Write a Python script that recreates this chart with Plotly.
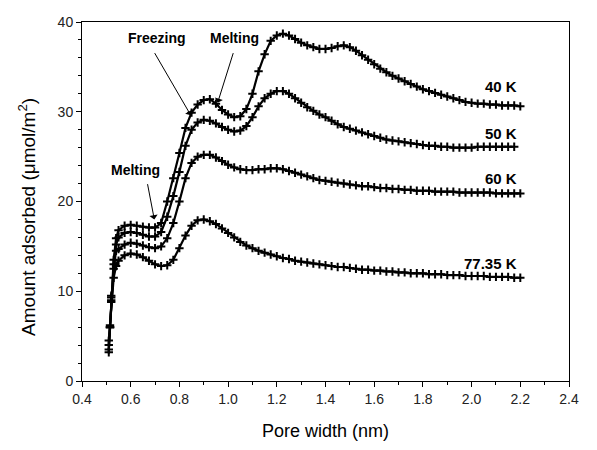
import plotly.graph_objects as go

# Pore width grid (nm)
pore_width = [0.510, 0.515, 0.520, 0.530, 0.540,
              0.550, 0.575, 0.600, 0.625, 0.650, 0.675, 0.700, 0.725, 0.750, 0.775,
              0.800, 0.825, 0.850, 0.875, 0.900, 0.925, 0.950, 0.975, 1.000, 1.025,
              1.050, 1.075, 1.100, 1.125, 1.150, 1.175, 1.200, 1.225, 1.250, 1.275,
              1.300, 1.325, 1.350, 1.375, 1.400, 1.425, 1.450, 1.475, 1.500, 1.525,
              1.550, 1.575, 1.600, 1.625, 1.650, 1.675, 1.700, 1.725, 1.750, 1.775,
              1.800, 1.825, 1.850, 1.875, 1.900, 1.925, 1.950, 1.975, 2.000, 2.025,
              2.050, 2.075, 2.100, 2.125, 2.150, 2.175, 2.200]

ads_40K = [3.2, 6.0, 9.5, 13.5, 15.9,
           16.8, 17.3, 17.4, 17.3, 17.2, 17.1, 17.1, 17.6, 20.0, 22.6,
           25.4, 28.2, 29.9, 30.8, 31.3, 31.4, 30.9, 30.2, 29.7, 29.4,
           29.5, 30.3, 32.0, 34.5, 36.4, 37.9, 38.5, 38.7, 38.5, 38.1,
           37.7, 37.4, 37.2, 37.0, 37.0, 37.1, 37.3, 37.4, 37.2, 36.8,
           36.3, 35.8, 35.3, 34.8, 34.4, 34.0, 33.7, 33.4, 33.1, 32.8,
           32.5, 32.3, 32.1, 31.9, 31.7, 31.5, 31.3, 31.1, 31.0, 30.9,
           30.9, 30.8, 30.8, 30.7, 30.7, 30.7, 30.6]

ads_50K = [3.5, 6.0, 9.3, 13.0, 15.2,
           16.0, 16.5, 16.6, 16.5, 16.3, 16.1, 16.1, 16.6, 18.3, 20.6,
           23.3, 26.2, 28.0, 28.8, 29.1, 29.0, 28.7, 28.3, 28.0, 27.8,
           27.9, 28.4, 29.4, 30.6, 31.5, 32.0, 32.3, 32.3, 32.0, 31.5,
           31.0, 30.5, 30.1, 29.7, 29.4, 29.0, 28.6, 28.3, 28.1, 27.9,
           27.7, 27.5, 27.3, 27.1, 26.9, 26.8, 26.7, 26.6, 26.5, 26.4,
           26.3, 26.2, 26.2, 26.1, 26.1, 26.0, 26.0, 26.0, 26.0, 26.1,
           26.1, 26.1, 26.1, 26.1, 26.1, 26.1, None]

ads_60K = [4.0, 6.0, 9.0, 12.5, 14.5,
           14.7, 15.2, 15.4, 15.3, 15.1, 14.9, 14.8, 15.0, 15.9, 17.6,
           20.0, 22.6, 24.3, 25.0, 25.2, 25.2, 24.9, 24.5, 24.1, 23.8,
           23.6, 23.5, 23.5, 23.6, 23.6, 23.7, 23.7, 23.6, 23.4, 23.2,
           23.0, 22.8, 22.6, 22.4, 22.3, 22.2, 22.1, 22.0, 21.9, 21.8,
           21.7, 21.7, 21.6, 21.5, 21.5, 21.4, 21.4, 21.3, 21.3, 21.2,
           21.2, 21.2, 21.1, 21.1, 21.1, 21.1, 21.0, 21.0, 21.0, 21.0,
           21.0, 21.0, 20.9, 20.9, 20.9, 20.9, 20.9]

ads_77K = [4.5, 6.2, 8.8, 11.5, 12.8,
           13.4, 14.0, 14.2, 14.1, 13.8, 13.4, 13.0, 12.8, 12.9, 13.5,
           14.8, 16.2, 17.3, 17.9, 18.0, 17.8, 17.5, 17.0, 16.5, 16.0,
           15.5, 15.1, 14.8, 14.5, 14.3, 14.1, 13.9, 13.7, 13.6, 13.4,
           13.3, 13.2, 13.1, 13.0, 12.9, 12.8, 12.7, 12.7, 12.6, 12.5,
           12.4, 12.4, 12.3, 12.3, 12.2, 12.2, 12.1, 12.1, 12.0, 12.0,
           12.0, 11.9, 11.9, 11.9, 11.8, 11.8, 11.8, 11.7, 11.7, 11.7,
           11.7, 11.6, 11.6, 11.6, 11.6, 11.5, 11.5]

series = [("40 K", ads_40K), ("50 K", ads_50K), ("60 K", ads_60K), ("77.35 K", ads_77K)]
label_y = [32.8, 27.6, 22.6, 13.1]

fig = go.Figure()
for name, ys in series:
    fig.add_trace(go.Scatter(
        x=pore_width, y=ys, mode="lines+markers", name=name,
        line=dict(color="black", width=2.2),
        marker=dict(symbol="cross-thin", size=6, color="black",
                    line=dict(color="black", width=2)),
        showlegend=False, connectgaps=False))

font_family = "Liberation Sans, Arial, sans-serif"

annotations = []
for (name, _), ly in zip(series, label_y):
    annotations.append(dict(x=2.195, y=ly, xref="x", yref="y", text="<b>%s</b>" % name,
                            showarrow=False, xanchor="right", yanchor="middle",
                            font=dict(size=15, color="black", family=font_family)))

# phase-transition labels
texts = [("Freezing", 0.707, 38.2), ("Melting", 1.025, 38.2), ("Melting", 0.62, 23.5)]
for t, tx, ty in texts:
    annotations.append(dict(x=tx, y=ty, xref="x", yref="y", text="<b>%s</b>" % t,
                            showarrow=False, font=dict(size=14, color="black", family=font_family)))

arrows = [((0.695, 36.7), (0.847, 29.6)), ((1.023, 36.7), (0.957, 31.0)), ((0.668, 22.1), (0.697, 18.0))]
for (tx, ty), (hx, hy) in arrows:
    annotations.append(dict(x=hx, y=hy, ax=tx, ay=ty, xref="x", yref="y", axref="x", ayref="y",
                            text="", showarrow=True, arrowhead=1, arrowsize=1.4,
                            arrowwidth=1, arrowcolor="black"))

# y-axis title
annotations.append(dict(x=-0.113, y=0.12, xref="paper", yref="paper",
                        xanchor="center", yanchor="bottom",
                        text="Amount adsorbed (\u03bcmol/m<sup>2</sup>)", textangle=-90,
                        showarrow=False, font=dict(size=19, color="black", family=font_family)))

fig.update_layout(
    width=597, height=450,
    margin=dict(l=82, r=28, t=22, b=69),
    paper_bgcolor="white", plot_bgcolor="white",
    font=dict(family=font_family, color="black"),
    annotations=annotations,
    xaxis=dict(range=[0.4, 2.4], dtick=0.2, tick0=0.4, tickformat=".1f",
               ticks="outside", ticklen=5, tickwidth=1, tickcolor="black",
               minor=dict(dtick=0.1, ticks="outside", ticklen=3, tickcolor="black"),
               showline=True, linecolor="black", linewidth=1, mirror=True,
               showgrid=False, zeroline=False,
               tickfont=dict(size=14, color="#222"),
               title=dict(text="Pore width (nm)", font=dict(size=18, color="black"), standoff=18)),
    yaxis=dict(range=[0, 40], dtick=10, tick0=0,
               ticks="outside", ticklen=5, tickwidth=1, tickcolor="black",
               minor=dict(dtick=2, ticks="outside", ticklen=3, tickcolor="black"),
               showline=True, linecolor="black", linewidth=1, mirror=True,
               showgrid=False, zeroline=False,
               tickfont=dict(size=14, color="#222")),
)

fig.write_html("out.html")
